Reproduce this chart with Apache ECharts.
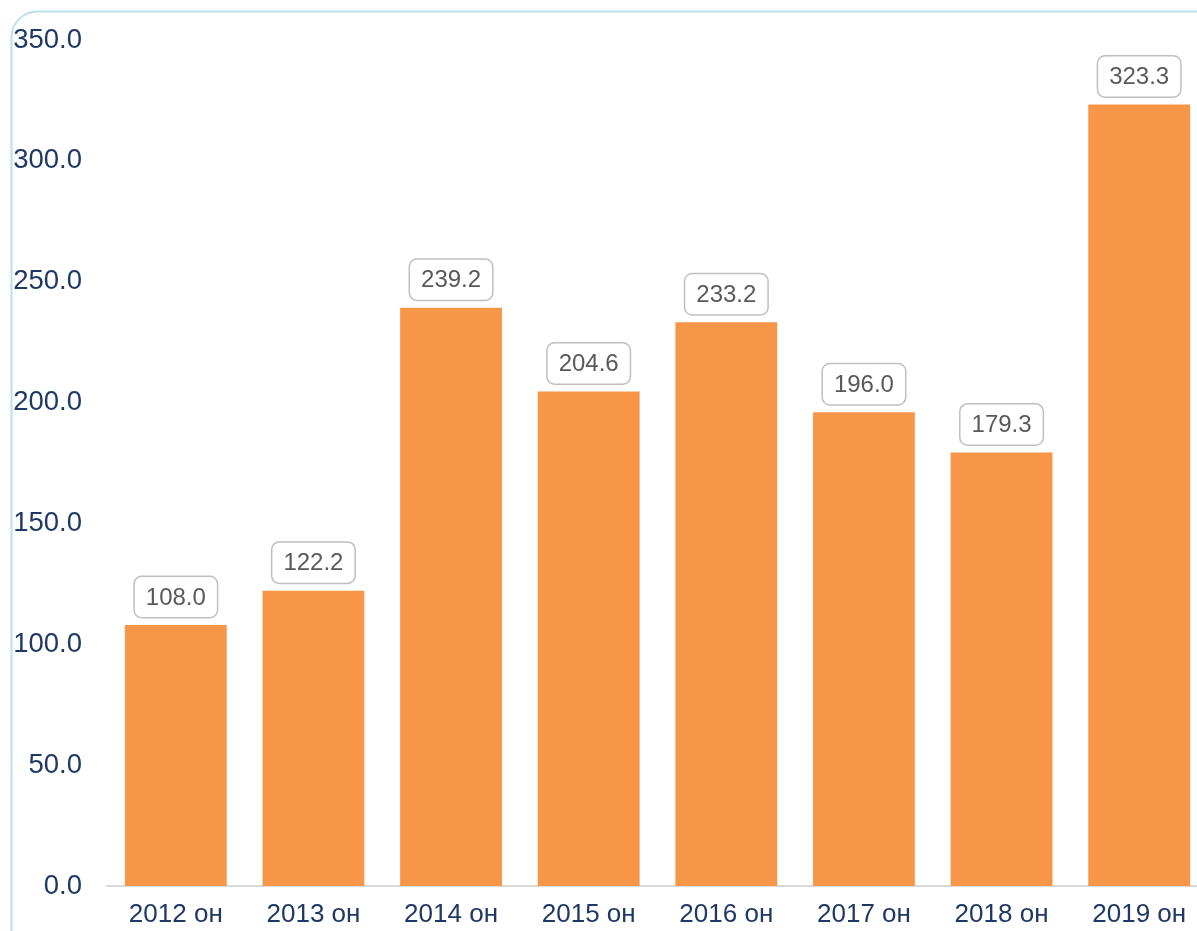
<!DOCTYPE html>
<html>
<head>
<meta charset="utf-8">
<script src="https://cdn.jsdelivr.net/npm/echarts@6/dist/echarts.min.js"></script>
<style>
  html, body { margin: 0; padding: 0; background: #fff; }
  #chart { width: 1197px; height: 931px; }
</style>
</head>
<body>
<div id="chart"></div>
<script>
var years = ['2012 он', '2013 он', '2014 он', '2015 он', '2016 он', '2017 он', '2018 он', '2019 он'];
var values = [108.0, 122.2, 239.2, 204.6, 233.2, 196.0, 179.3, 323.3];
var yTicks = [0, 50, 100, 150, 200, 250, 300, 350];

var myChart = echarts.init(document.getElementById('chart'));
var option = {
    backgroundColor: '#fff',
    textStyle: { fontFamily: 'Liberation Sans, Arial, sans-serif' },
    graphic: [{
        type: 'rect',
        left: 9, top: 9,
        shape: { width: 1220, height: 950, r: 26 },
        style: { fill: 'none', stroke: '#BCE0EB', lineWidth: 2 },
        silent: true
    }],
    grid: { left: 107, width: 1101, top: 40, bottom: 45, outerBoundsMode: 'none', containLabel: false },
    xAxis: {
        type: 'category',
        data: years,
        axisLine: { lineStyle: { color: '#D9D9D9', width: 2 } },
        axisTick: { show: false },
        axisLabel: { color: '#1F3864', fontSize: 26, margin: 16 }
    },
    yAxis: {
        type: 'value',
        min: yTicks[0],
        max: yTicks[yTicks.length - 1],
        interval: 50,
        splitLine: { show: false },
        axisLine: { show: false },
        axisTick: { show: false },
        axisLabel: {
            color: '#1F3864', fontSize: 27.5, margin: 25,
            formatter: function (v) { return v.toFixed(1); }
        }
    },
    series: [{
        type: 'bar',
        data: values,
        barWidth: '74%',
        itemStyle: { color: '#F79646' },
        label: {
            show: true,
            position: 'top',
            distance: 8,
            fontSize: 24,
            color: '#595959',
            backgroundColor: '#fff',
            borderColor: '#BFBFBF',
            borderWidth: 1.5,
            borderRadius: 7,
            padding: [9, 11, 7, 11],
            formatter: function (p) { return p.value.toFixed(1); }
        }
    }]
};
myChart.setOption(option);
</script>
</body>
</html>
